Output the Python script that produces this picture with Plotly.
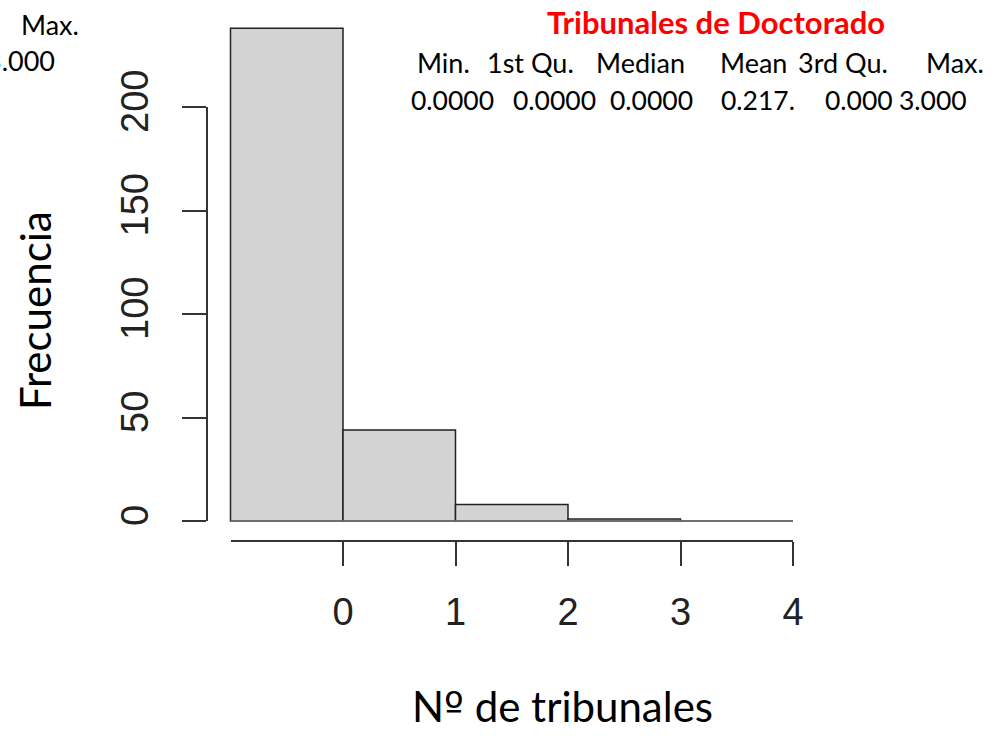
import plotly.graph_objects as go

# histogram of number of doctoral tribunals
bin_edges = [-1, 0, 1, 2, 3, 4]
counts = [238, 44, 8, 1, 0]
x_ticks = [0, 1, 2, 3, 4]
y_ticks = [0, 50, 100, 150, 200]

stat_names = ["Min.", "1st Qu.", "Median", "Mean", "3rd Qu.", "Max."]
stat_values = ["0.0000", "0.0000", "0.0000", "0.217.", "0.000", "3.000"]

W, H = 1003, 745
px_unit_x = 112.5
px_unit_y = 2.07
x_left_px, y_zero_px = 230.5, 521

centers = [(a + b) / 2 for a, b in zip(bin_edges[:-1], bin_edges[1:])]
widths = [b - a for a, b in zip(bin_edges[:-1], bin_edges[1:])]

x0 = bin_edges[0] - x_left_px / px_unit_x
x1 = x0 + W / px_unit_x
ytop = y_zero_px / px_unit_y
ybot = -(H - y_zero_px) / px_unit_y

fig = go.Figure()
# baseline of the histogram
fig.add_trace(go.Scatter(x=[bin_edges[0], bin_edges[-1]], y=[0, 0], mode="lines",
                         line=dict(color="#777777", width=1.5), hoverinfo="skip"))
fig.add_trace(go.Bar(x=centers, y=counts, width=widths,
                     marker=dict(color="#d3d3d3", line=dict(color="#222222", width=1.5))))
# empty trace to show the R style axes
fig.add_trace(go.Scatter(x=[None], y=[None], xaxis="x2", yaxis="y2", hoverinfo="skip"))

tick_font = dict(family="Liberation Sans, Arial", size=38, color="#222222")
fig.update_layout(
    width=W, height=H,
    margin=dict(l=0, r=0, t=0, b=0, autoexpand=False),
    paper_bgcolor="white", plot_bgcolor="rgba(0,0,0,0)",
    showlegend=False,
    xaxis=dict(range=[x0, x1], visible=False, domain=[0, 1]),
    yaxis=dict(range=[ybot, ytop], visible=False, domain=[0, 1]),
    xaxis2=dict(domain=[x_left_px / W, 793 / W], range=[bin_edges[0], bin_edges[-1]],
                anchor="free", position=(H - 541) / H, showline=True, linecolor="#333333",
                linewidth=1.5, ticks="outside", ticklen=24, tickwidth=1.5, tickcolor="#333333",
                tickvals=x_ticks, ticktext=[str(v) for v in x_ticks], showgrid=False,
                zeroline=False, tickfont=tick_font, ticklabelstandoff=14),
    yaxis2=dict(domain=[(H - y_zero_px) / H, (H - 107) / H], range=[0, 200],
                anchor="free", position=207 / W, showline=True, linecolor="#333333",
                linewidth=1.5, ticks="outside", ticklen=24, tickwidth=1.5, tickcolor="#333333",
                tickvals=y_ticks, ticktext=[str(v) for v in y_ticks], showgrid=False,
                zeroline=False, tickfont=tick_font, tickangle=-90, ticklabelstandoff=19),
)

txt_font = "Lato, Open Sans, sans-serif"
ann = []
ann.append(dict(text="Frecuencia", x=35 / W, y=1 - 311 / H, textangle=-90,
                font=dict(family=txt_font, size=42, color="black")))
ann.append(dict(text="N<span style='font-family:DejaVu Sans'>º</span> de tribunales",
                x=562 / W, y=1 - 706 / H,
                font=dict(family=txt_font, size=42, color="black")))
ann.append(dict(text="<b>Tribunales de Doctorado</b>", x=716 / W, y=1 - 22 / H,
                font=dict(family=txt_font, size=31, color="#ff0000")))

name_x = [443, 530, 640, 753, 843, 955]
value_x = [452, 554, 651, 758, 859, 933]
for nm, vx in zip(stat_names, name_x):
    ann.append(dict(text=nm, x=vx / W, y=1 - 62 / H,
                    font=dict(family=txt_font, size=27, color="black")))
for v, vx in zip(stat_values, value_x):
    ann.append(dict(text=v, x=vx / W, y=1 - 100 / H,
                    font=dict(family=txt_font, size=26.5, color="black")))
# cropped stats block on the left edge
ann.append(dict(text=stat_names[-1], x=50 / W, y=1 - 25 / H,
                font=dict(family=txt_font, size=27, color="black")))
ann.append(dict(text=stat_values[-1], x=57 / W, y=1 - 61 / H, xanchor="right",
                font=dict(family=txt_font, size=27, color="black")))

for a in ann:
    a.update(xref="paper", yref="paper", showarrow=False)
    a.setdefault("xanchor", "center")
    a.setdefault("yanchor", "middle")
fig.update_layout(annotations=ann)

fig.write_html("out.html", config={"displayModeBar": False},
               post_script="document.body.style.margin='0';")
